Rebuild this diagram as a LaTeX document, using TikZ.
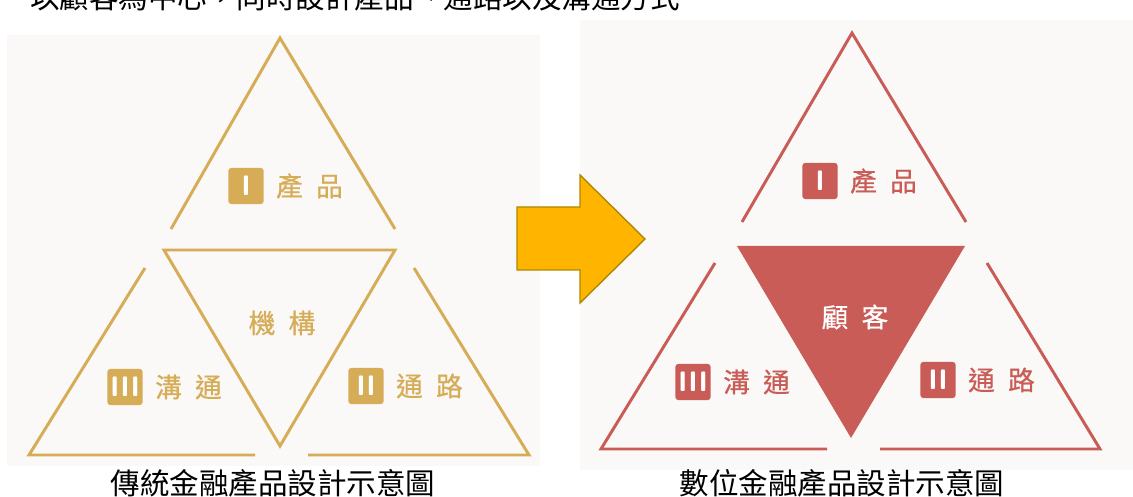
\documentclass[tikz,border=0pt]{standalone}
\usepackage{fontspec}
\usetikzlibrary{positioning}
\newfontfamily\cjk{Noto Sans CJK TC}
\newfontfamily\cjkm{Noto Sans CJK TC}[FakeBold=0.6]
\definecolor{gold}{RGB}{214,172,86}
\definecolor{rose}{RGB}{201,92,86}
\definecolor{paper}{RGB}{250,249,247}
\definecolor{amber}{RGB}{255,180,0}
\definecolor{amberdark}{RGB}{176,136,0}
\newcommand{\lgap}{\hspace{0.33cm}}

\begin{document}
\begin{tikzpicture}[x=0.025cm, y=-0.025cm, node distance=0.3cm,
    side/.style={line width=2.1pt},
    badge/.style={rectangle, rounded corners=2pt, text=white, minimum width=0.88cm, minimum height=0.9cm, inner sep=0pt, font=\sffamily\bfseries\fontsize{20}{20}\selectfont},
    term/.style={inner sep=0pt, font=\cjkm\fontsize{19}{21}\selectfont},
    capt/.style={inner sep=0pt, font=\cjk\fontsize{21}{23}\selectfont}]

    % Page and panels
    \fill[white] (0,0) rectangle (1133,497);
    \useasboundingbox (0,0) rectangle (1133,497);
    \clip (0,0) rectangle (1133,497);
    \fill[paper] (7,35) rectangle (540,466);
    \fill[paper] (580,20) rectangle (1133,470);

    % Cut-off line of text above
    \node[capt] (intro) at (355,-3) {以顧客為中心，同時設計產品、通路以及溝通方式};

    % Traditional design
    \draw[side, gold] (171,229) -- (280,38) -- (395,229);
    \draw[side, gold] (164,250) -- (395,250) -- (280,446) -- cycle;
    \draw[side, gold] (145,268) -- (29,455) -- (255,455);
    \draw[side, gold] (414,268) -- (529,455) -- (308,455);

    \node[badge, fill=gold] (lprod) at (246,186) {I};
    \node[term, text=gold, right=of lprod] (lprodtxt) {產\lgap{}品};
    \node[term, text=gold] (lorg) at (282,323) {機\lgap{}構};
    \node[badge, fill=gold] (lcomm) at (125,387) {III};
    \node[term, text=gold, right=of lcomm] (lcommtxt) {溝\lgap{}通};
    \node[badge, fill=gold] (lchan) at (366,386) {II};
    \node[term, text=gold, right=of lchan] (lchantxt) {通\lgap{}路};

    % Arrow
    \draw[fill=amber, draw=amberdark, line width=1pt] (517,207) -- (580,207) -- (580,175) -- (645,239)
        -- (580,303) -- (580,270) -- (517,270) -- cycle;

    % Digital design
    \draw[side, rose] (742,222) -- (852,33) -- (966,222);
    \fill[rose] (737,246) -- (965,246) -- (851,438) -- cycle;
    \draw[side, rose] (715,263) -- (601,449) -- (827,449);
    \draw[side, rose] (987,263) -- (1100,449) -- (880,449);

    \node[badge, fill=rose] (rprod) at (820,181) {I};
    \node[term, text=rose, right=of rprod] (rprodtxt) {產\lgap{}品};
    \node[term, text=white] (rcust) at (855,317) {顧\lgap{}客};
    \node[badge, fill=rose] (rcomm) at (693,382) {III};
    \node[term, text=rose, right=of rcomm] (rcommtxt) {溝\lgap{}通};
    \node[badge, fill=rose] (rchan) at (938,380) {II};
    \node[term, text=rose, right=of rchan] (rchantxt) {通\lgap{}路};

    % Captions
    \node[capt] (lcap) at (273,483) {傳統金融產品設計示意圖};
    \node[capt] (rcap) at (842,483) {數位金融產品設計示意圖};

\end{tikzpicture}
\end{document}
